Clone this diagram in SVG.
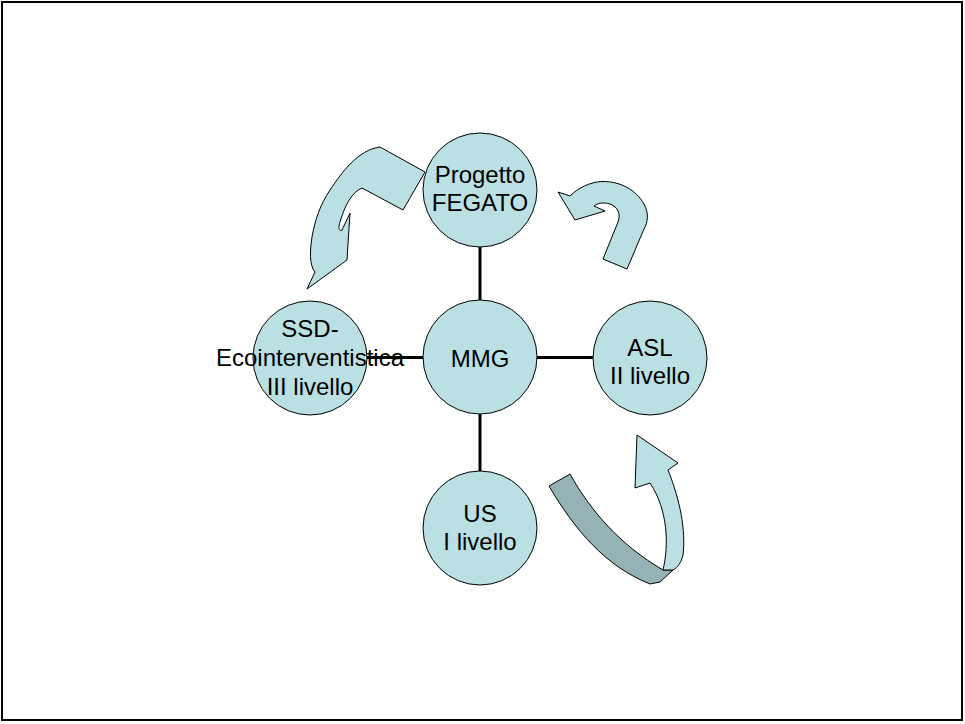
<svg xmlns="http://www.w3.org/2000/svg" width="965" height="724" viewBox="0 0 965 724">
<style>
.node{fill:#bbe0e3;stroke:#000;stroke-width:1}
.lbl{font-family:"Liberation Sans",Arial,sans-serif;font-size:24px;fill:#000;text-anchor:middle}
.conn{stroke:#000;stroke-width:3;fill:none}
.arw{fill:#bbe0e3;stroke:#000;stroke-width:1;stroke-linejoin:round}
.arwd{fill:#95b2b4;stroke:#000;stroke-width:1;stroke-linejoin:round}
</style>
<rect x="0" y="0" width="965" height="724" fill="#fff"/>
<rect x="2" y="2" width="960" height="718" fill="none" stroke="#000" stroke-width="2"/>
<g id="connectors">
<line class="conn" x1="480" y1="246" x2="480" y2="301"/>
<line class="conn" x1="480" y1="414" x2="480" y2="471"/>
<line class="conn" x1="366" y1="357.5" x2="424" y2="357.5"/>
<line class="conn" x1="536" y1="357.5" x2="594" y2="357.5"/>
</g>
<g id="arrow-top-left">
<path class="arw" d="M380,147 L425,172 L403,210 L362,188 C352,192 345,205 340,222 C338,228 339,232 342,230 L350,213 L347,260 L307,289 L315,272 C309,265 310,250 312,237 C315,220 320,205 330,190 C342,172 358,150 380,147 Z"/>
</g>
<g id="arrow-top-right">
<path class="arw" d="M558,192 L570,196 C578,188 590,182 602,181.5 C620,181 636,190 644,204 C649,213 648,222 644,229 L627,269 L603,259 L618,222 C621,214 618,207 610,204 C603,202 598,203 594,206 L605,211 L575,220 Z"/>
</g>
<g id="arrow-bottom-right">
<path class="arwd" d="M549,486 L570,474 C590,510 620,545 663,570 L673,570 L660,582 L650,584 C605,566 575,530 549,486 Z"/>
<path class="arw" d="M663,570 C669,545 668,510 650,483 L635,488 L637,435 L678,463 L668,470 C680,500 686,530 683,555 C681,563 678,567 673,570 Z"/>
</g>
<g id="node-progetto">
<circle class="node" cx="480" cy="190" r="57"/>
<text class="lbl" x="480" y="183">Progetto</text>
<text class="lbl" x="480" y="211">FEGATO</text>
</g>
<g id="node-mmg">
<circle class="node" cx="480" cy="357" r="57"/>
<text class="lbl" x="480" y="367">MMG</text>
</g>
<g id="node-ssd">
<circle class="node" cx="310" cy="358" r="57"/>
<text class="lbl" x="310" y="337">SSD-</text>
<text class="lbl" x="310" y="366">Ecointerventistica</text>
<text class="lbl" x="310" y="395">III livello</text>
</g>
<g id="node-asl">
<circle class="node" cx="650" cy="358" r="57"/>
<text class="lbl" x="650" y="356">ASL</text>
<text class="lbl" x="650" y="384">II livello</text>
</g>
<g id="node-us">
<circle class="node" cx="480" cy="528" r="57"/>
<text class="lbl" x="480" y="522">US</text>
<text class="lbl" x="480" y="550">I livello</text>
</g>
</svg>
